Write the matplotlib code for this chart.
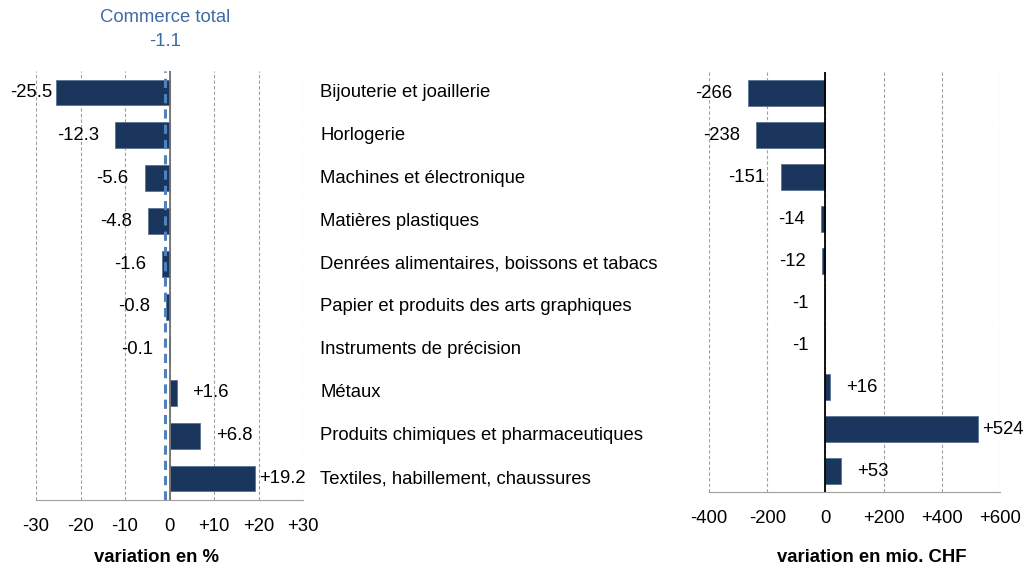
import numpy as np
import matplotlib.pyplot as plt
from matplotlib.ticker import FuncFormatter

plt.rcParams['font.family'] = ['Liberation Sans', 'DejaVu Sans']

categories = ['Bijouterie et joaillerie', 'Horlogerie', 'Machines et électronique',
              'Matières plastiques', 'Denrées alimentaires, boissons et tabacs',
              'Papier et produits des arts graphiques', 'Instruments de précision',
              'Métaux', 'Produits chimiques et pharmaceutiques',
              'Textiles, habillement, chaussures']
pct = [-25.5, -12.3, -5.6, -4.8, -1.6, -0.8, -0.1, 1.6, 6.8, 19.2]
pct_labels = ['-25.5', '-12.3', '-5.6', '-4.8', '-1.6', '-0.8', '-0.1', '+1.6', '+6.8', '+19.2']
chf = [-266, -238, -151, -14, -12, -1, -1, 16, 524, 53]
chf_labels = ['-266', '-238', '-151', '-14', '-12', '-1', '-1', '+16', '+524', '+53']
total_pct = -1.1

navy = '#1b365d'
blue = '#4f81bd'
W, H = 1030, 565
fs = 13.3


def fax(x0, y0, x1, y1):
    return fig.add_axes([x0 / W, 1 - y1 / H, (x1 - x0) / W, (y1 - y0) / H])


def sign_fmt(v, pos):
    if v > 0:
        return '+%d' % v
    return '%d' % v


fig = plt.figure(figsize=(W / 100, H / 100), dpi=100)
ax1 = fax(36, 71, 303, 500)
ax2 = fax(709, 72, 1000, 492)

y = np.arange(len(categories))

# (axes, values, labels, limits, tick step, zero line colour, right bound in px)
panels = [(ax1, pct, pct_labels, (-30, 30), 10, '#707070', 303),
          (ax2, chf, chf_labels, (-400, 600), 200, 'black', W)]

for ax, vals, labs, lim, step, zc, right in panels:
    ax.barh(y, vals, height=0.6, color=navy, edgecolor='#5a7394', linewidth=0.6, zorder=3)
    ax.set_xlim(*lim)
    ax.set_ylim(len(categories) - 0.5, -0.5)
    ax.set_xticks(np.arange(lim[0], lim[1] + 1, step))
    ax.xaxis.set_major_formatter(FuncFormatter(sign_fmt))
    ax.set_yticks([])
    ax.grid(axis='x', color='#a0a0a0', linestyle=(0, (3, 2)), linewidth=0.8, zorder=0)
    for s in ['top', 'right', 'left']:
        ax.spines[s].set_visible(False)
    ax.spines['bottom'].set_color('#a0a0a0')
    ax.tick_params(axis='x', length=0, labelsize=fs, pad=13)
    ax.axvline(0, color=zc, linewidth=1.3, zorder=4)

    # value labels: normal gap 16 px, pulled in to 4 px if they would not fit
    pos = ax.get_position()
    px = pos.width * W
    upp = (lim[1] - lim[0]) / px
    for i, (v, t) in enumerate(zip(vals, labs)):
        vpx = pos.x0 * W + (v - lim[0]) / upp
        tw = len(t) * 0.56 * fs * 100 / 72
        if v < 0:
            gap = 16 if vpx - 16 - tw > 0 else 4
            ax.text(v - gap * upp, i, t, ha='right', va='center', fontsize=fs, zorder=5)
        else:
            gap = 16 if vpx + 16 + tw < right else 4
            ax.text(v + gap * upp, i, t, ha='left', va='center', fontsize=fs, zorder=5,
                    clip_on=False)

ax1.axvline(total_pct, color=blue, linewidth=2.2, linestyle=(0, (3, 2)), zorder=6)
fig.text(165 / W, 1 - 18 / H, 'Commerce total', color='#3f6aa8', ha='center', va='center', fontsize=fs)
fig.text(165 / W, 1 - 41 / H, '%.1f' % total_pct, color='#3f6aa8', ha='center', va='center', fontsize=fs)

for i, c in enumerate(categories):
    ax1.text((320 - 36) / 267, i, c, transform=ax1.get_yaxis_transform(),
             ha='left', va='center', fontsize=fs)

fig.text(157 / W, 1 - 557 / H, 'variation en %', ha='center', va='center',
         fontsize=fs, fontweight='bold')
fig.text(872 / W, 1 - 557 / H, 'variation en mio. CHF', ha='center', va='center',
         fontsize=fs, fontweight='bold')

fig.savefig('out.png', dpi=100)
